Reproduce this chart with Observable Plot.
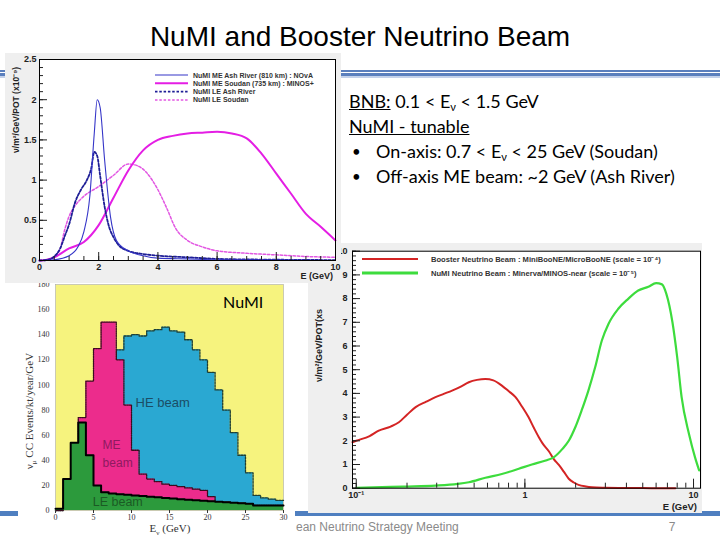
<!DOCTYPE html>
<html><head><meta charset="utf-8">
<script src="https://cdn.jsdelivr.net/npm/d3@7"></script>
<script src="https://cdn.jsdelivr.net/npm/@observablehq/plot@0.6"></script>
<style>
body{margin:0;background:#fff;}
#slide{position:relative;width:720px;height:540px;overflow:hidden;background:#fff;font-family:"Liberation Sans",Arial,sans-serif;}
.abs{position:absolute;}
.panel svg{display:block;}
.tb{position:absolute;left:349px;font-family:Lato,"Open Sans",sans-serif;font-size:18px;line-height:25px;color:#000;white-space:nowrap;}
.tb sub{font-size:11px;vertical-align:-3px;line-height:0;}
</style></head><body>
<div id="slide">
  <div class="abs" style="left:0;top:70px;width:720px;height:2px;background:#5a7fbd"></div>
  <div class="abs" style="left:0;top:73px;width:720px;height:3px;background:#5a7fbd"></div>
  <div class="abs" style="left:0;top:76px;width:720px;height:2px;background:#c3d1ea"></div>
  <div class="abs" style="left:0;top:511px;width:720px;height:5px;background:#4f7fc0"></div>
  <div class="abs" style="left:0;top:21px;width:720px;text-align:center;font-size:28px;line-height:32px;color:#000">NuMI and Booster Neutrino Beam</div>
  <div class="abs" style="left:296px;top:520px;font-size:12px;line-height:14px;color:#8a8a8a;white-space:nowrap">ean Neutrino Strategy Meeting</div>
  <div class="abs" style="left:666px;top:520px;width:12px;text-align:center;font-size:12px;line-height:14px;color:#8a8a8a">7</div>
  <div id="p3" class="abs panel" style="left:308px;top:243px;width:394px;height:270px;background:#efefef"></div>
  <div id="p2" class="abs panel" style="left:18px;top:270px;width:277px;height:270px;background:#fff"></div>
  <div id="p1" class="abs panel" style="left:5px;top:53px;width:336px;height:230px;background:#efefef"></div>
  <div class="tb" style="top:88.5px"><u>BNB:</u> 0.1 &lt; E<sub>ν</sub> &lt; 1.5 GeV</div>
  <div class="tb" style="top:113.5px"><u>NuMI - tunable</u></div>
  <div class="tb" style="top:138.5px;left:352px;font-size:15px">•</div>
  <div class="tb" style="top:138.5px;left:376px">On-axis: 0.7 &lt; E<sub>ν</sub> &lt; 25 GeV (Soudan)</div>
  <div class="tb" style="top:163.5px;left:352px;font-size:15px">•</div>
  <div class="tb" style="top:163.5px;left:376px">Off-axis ME beam: ~2 GeV (Ash River)</div>
</div>
<script>
// ---------- Top-left chart: NuMI fluxes (x10^-9) ----------
const meAshE = [0,0.5,1,1.3,1.5,1.7,1.85,1.95,2.05,2.2,2.4,2.6,3,3.5,4,5,6,8,10];
const meAshV = [0,0.01,0.06,0.17,0.36,0.8,1.58,2.0,1.9,1.25,0.54,0.25,0.12,0.06,0.03,0.02,0.01,0.005,0];
const meSouE = [0,0.25,0.5,1,1.5,2,2.5,3,3.5,4,4.5,5,5.5,6,6.5,7,7.5,8,8.5,9,9.5,10];
const meSouV = [0,0.01,0.04,0.15,0.23,0.44,0.78,1.12,1.37,1.5,1.55,1.58,1.59,1.6,1.58,1.52,1.33,1.08,0.83,0.58,0.42,0.25];
const leAshE = [0,0.3,0.5,0.7,0.85,1,1.2,1.4,1.6,1.75,1.85,1.95,2.05,2.2,2.35,2.5,2.7,3,3.5,4,5,6,8,10];
const leAshV = [0,0.01,0.05,0.15,0.3,0.45,0.72,0.88,1.0,1.15,1.35,1.3,1.05,0.67,0.42,0.29,0.18,0.12,0.08,0.06,0.04,0.02,0.01,0.005];
const leSouE = [0,0.3,0.5,0.7,0.85,1,1.2,1.5,2,2.5,3,3.3,3.6,4,4.3,4.6,5,5.5,6,7,8,9,10];
const leSouV = [0,0.01,0.05,0.15,0.38,0.55,0.68,0.8,0.92,1.06,1.2,1.18,1.1,0.88,0.65,0.4,0.25,0.17,0.12,0.09,0.07,0.05,0.04];
const topSeries = ["NuMI ME Ash River (810 km) : NOvA","NuMI ME Soudan (735 km) : MINOS+","NuMI LE Ash River","NuMI LE Soudan"];
const topXTicks = [0,2,4,6,8,10];
const topXMinor = [0,0.5,1,1.5,2,2.5,3,3.5,4,4.5,5,5.5,6,6.5,7,7.5,8,8.5,9,9.5,10];
const topYTicks = [0,0.5,1,1.5,2,2.5];
const topYMinor = [0,0.1,0.2,0.3,0.4,0.5,0.6,0.7,0.8,0.9,1,1.1,1.2,1.3,1.4,1.5,1.6,1.7,1.8,1.9,2,2.1,2.2,2.3,2.4,2.5];

// ---------- Bottom-left histogram: numu CC events/kt/year/GeV ----------
const binLo = [0,1,2,3,4,5,6,7,8,9,10,11,12,13,14,15,16,17,18,19,20,21,22,23,24,25,26,27,28,29];
const heEvents = [0,1,4,17,38,60,88,110,128,139,140,139,143,144,146,143,142,136,128,120,110,96,80,62,44,30,12,10,9,8];
const meEvents = [0,7,7,74,103,129,150,150,120,84,48,29,25,23,21,20,19,18,17,16,11,7,6.6,6.2,5.8,5.4,4,4,4,4];
const leEvents = [1.3,25,54,70,44,20,14.5,13.5,13,12.5,12,11.5,11,10.5,10,9.5,9,8.5,8.2,7.8,7.4,7,6.6,6.2,5.8,5.4,4,4,4,4];
const histXTicks = [0,5,10,15,20,25,30];
const histYTicks = [0,20,40,60,80,100,120,140,160,180];

// ---------- Right chart: BNB vs NuMI near flux ----------
const bnbE = [0.095,0.1,0.12,0.136,0.16,0.179,0.2,0.225,0.26,0.295,0.33,0.37,0.42,0.465,0.52,0.583,0.65,0.73,0.8,0.88,0.96,1.05,1.13,1.21,1.27,1.39,1.48,1.59,1.7,1.82,1.95,2.08,2.3,2.5,3,3.6,5,7.1,7.8];
const bnbV = [1.94,2.0,2.2,2.43,2.6,2.78,3.1,3.42,3.65,3.84,3.98,4.12,4.3,4.47,4.57,4.61,4.55,4.33,4.1,3.84,3.45,3.0,2.55,2.15,1.9,1.55,1.24,0.98,0.7,0.4,0.24,0.14,0.07,0.04,0.02,0.01,0.005,0,0];
const numiE = [0.1,0.19,0.295,0.4,0.465,0.583,0.73,0.92,1.1,1.33,1.48,1.67,1.82,1.99,2.17,2.38,2.61,2.86,3.13,3.58,4.1,4.7,5.4,6.0,6.5,6.9,7.5,8.0,8.5,9.4,10.2,10.8];
const numiV = [0.01,0.07,0.11,0.18,0.25,0.44,0.6,0.82,1.0,1.17,1.3,1.66,2.0,2.57,3.28,4.12,5.1,6.23,6.93,7.57,7.99,8.34,8.5,8.65,8.6,8.2,7.0,5.53,3.84,2.29,1.31,0.75];
const rightSeries = ["Booster Neutrino Beam : MiniBooNE/MicroBooNE (scale = 10\u207B\u2074)","NuMI Neutrino Beam : Minerva/MINOS-near (scale = 10\u207B\u2075)"];
const rightXTicks = [0.1,1,10];
const rightXLabels = ["10\u207B\u00B9","1","10"];
const rightXMinor = [0.1,0.2,0.3,0.4,0.5,0.6,0.7,0.8,0.9,1,2,3,4,5,6,7,8,9,10];
const rightYTicks = [0,1,2,3,4,5,6,7,8,9,10];
const rightYMinor = d3.range(0, 10.001, 0.2);

const pts = (xs, ys) => xs.map((x, i) => ({x, y: ys[i]}));
const steps = vals => [...binLo.map((x, i) => ({x, y: vals[i]})), {x: 30, y: vals[vals.length - 1]}];
const fmt = d3.format("~g");
const blank = () => "";

// ================= Chart 1 =================
{
  const c = {meAsh:"#3535c8", meSou:"#e41ee4", leAsh:"#1e1e96", leSou:"#e257e2"};
  const svg = Plot.plot({
    width: 336, height: 230, marginLeft: 34, marginRight: 6, marginTop: 6, marginBottom: 23,
    style: {background: "transparent", fontFamily: "Liberation Sans", fontSize: "9px", fontWeight: "bold", color: "#222"},
    x: {domain: [0, 10], axis: null},
    y: {domain: [0, 2.5], axis: null},
    marks: [
      Plot.frame({fill: "white"}),
      Plot.line(pts(leSouE, leSouV), {x: "x", y: "y", stroke: c.leSou, strokeWidth: 1.5, strokeDasharray: "2.5,1.8", curve: "monotone-x"}),
      Plot.line(pts(meSouE, meSouV), {x: "x", y: "y", stroke: c.meSou, strokeWidth: 2, curve: "monotone-x"}),
      Plot.line(pts(leAshE, leAshV), {x: "x", y: "y", stroke: c.leAsh, strokeWidth: 1.8, strokeDasharray: "2.5,1.8", curve: "monotone-x"}),
      Plot.line(pts(meAshE, meAshV), {x: "x", y: "y", stroke: c.meAsh, strokeWidth: 1.1, curve: "monotone-x"}),
      Plot.axisX({ticks: topXMinor, tickSize: -4, tickFormat: blank, label: null}),
      Plot.axisX({ticks: topXTicks, tickSize: -8, tickFormat: blank, label: null}),
      Plot.axisX({ticks: topXTicks, tickSize: 0, tickPadding: 3, tickFormat: fmt, label: null}),
      Plot.axisY({ticks: topYMinor, tickSize: -4, tickFormat: blank, label: null}),
      Plot.axisY({ticks: topYTicks, tickSize: -8, tickFormat: blank, label: null}),
      Plot.axisY({ticks: topYTicks, tickSize: 0, tickPadding: 3, tickFormat: fmt, label: null}),
      Plot.frame({stroke: "#000", strokeWidth: 1})
    ]
  });
  const g = d3.select(svg).append("g").attr("text-anchor", "start");
  const rows = [[c.meAsh, 1.1, null], [c.meSou, 2, null], [c.leAsh, 1.8, "2.5,1.8"], [c.leSou, 1.5, "2.5,1.8"]];
  rows.forEach(([col, w, dash], i) => {
    const y = 22 + i * 8.3;
    g.append("line").attr("x1", 150).attr("x2", 183).attr("y1", y).attr("y2", y)
      .attr("stroke", col).attr("stroke-width", w).attr("stroke-dasharray", dash);
    g.append("text").attr("x", 188).attr("y", y + 2.5).attr("text-anchor", "start").text(topSeries[i])
      .attr("font-size", 7).attr("font-weight", "bold").attr("fill", "#333");
  });
  g.append("text").attr("transform", "translate(14,14) rotate(-90)").attr("text-anchor", "end")
    .attr("font-size", 8.5).attr("font-weight", "bold").attr("fill", "#222")
    .text("\u03BD/m\u00B2/GeV/POT (x10\u207B\u2079)");
  g.append("text").attr("x", 328).attr("y", 226).attr("text-anchor", "end")
    .attr("font-size", 9).attr("font-weight", "bold").attr("fill", "#222").text("E (GeV)");
  document.getElementById("p1").appendChild(svg);
}

// ================= Chart 2 =================
{
  const col = {yel:"#f6f37e", he:"#2aa8d2", me:"#ec2c8c", le:"#2c9a3c"};
  const svg = Plot.plot({
    width: 277, height: 270, marginLeft: 37, marginRight: 12, marginTop: 14, marginBottom: 30,
    style: {background: "transparent", fontFamily: "Liberation Serif", fontSize: "8px", color: "#333"},
    x: {domain: [0, 30], axis: null},
    y: {domain: [0, 180], axis: null},
    marks: [
      Plot.frame({fill: col.yel, stroke: "#aaa", strokeWidth: 0.6}),
      Plot.areaY(steps(heEvents), {x: "x", y: "y", curve: "step-after", fill: col.he}),
      Plot.line(steps(heEvents), {x: "x", y: "y", curve: "step-after", stroke: "#1d3f35", strokeWidth: 1.3, strokeDasharray: "2,1.2"}),
      Plot.areaY(steps(meEvents), {x: "x", y: "y", curve: "step-after", fill: col.me}),
      Plot.line(steps(meEvents), {x: "x", y: "y", curve: "step-after", stroke: "#3a0c1e", strokeWidth: 1.3, strokeDasharray: "1.3,1"}),
      Plot.areaY(steps(leEvents), {x: "x", y: "y", curve: "step-after", fill: col.le}),
      Plot.line(steps(leEvents), {x: "x", y: "y", curve: "step-after", stroke: "#000", strokeWidth: 2}),
      Plot.axisX({ticks: histXTicks, tickSize: 3, tickPadding: 1, tickFormat: fmt, label: null}),
      Plot.axisY({ticks: histYTicks, tickSize: 0, tickPadding: 6, tickFormat: fmt, label: null}),
      Plot.text(["HE beam"], {x: 14.1, y: 86, fontSize: 13, fill: "#1b4d66", fontFamily: "Liberation Sans"}),
      Plot.text(["ME"], {x: 6.2, y: 52, textAnchor: "start", fontSize: 12, fill: "#8e1a60", fontFamily: "Liberation Sans"}),
      Plot.text(["beam"], {x: 6.2, y: 38, textAnchor: "start", fontSize: 12, fill: "#8e1a60", fontFamily: "Liberation Sans"}),
      Plot.text(["LE beam"], {x: 4.9, y: 6.4, textAnchor: "start", fontSize: 12.5, fill: "#1b5a24", fontFamily: "Liberation Sans"}),
      Plot.text(["NuMI"], {x: 24.7, y: 165, fontSize: 16, fill: "#000", fontFamily: "Lato"})
    ]
  });
  const g = d3.select(svg).append("g").attr("font-family", "Liberation Serif").attr("fill", "#333");
  const yl = g.append("text").attr("transform", "translate(15,141) rotate(-90)").attr("text-anchor", "middle").attr("font-size", 11);
  yl.append("tspan").text("\u03BD");
  yl.append("tspan").attr("font-size", 7).attr("dy", 3).text("\u03BC");
  yl.append("tspan").attr("dy", -3).text(" CC Events/kt/year/GeV");
  const xl = g.append("text").attr("x", 152).attr("y", 262).attr("text-anchor", "middle").attr("font-size", 11);
  xl.append("tspan").text("E");
  xl.append("tspan").attr("font-size", 7).attr("dy", 3).text("\u03BD");
  xl.append("tspan").attr("dy", -3).text(" (GeV)");
  document.getElementById("p2").appendChild(svg);
}

// ================= Chart 3 =================
{
  const red = "#d42424", green = "#3ddc3d";
  const xLab = d => rightXLabels[rightXTicks.findIndex(t => Math.abs(Math.log10(t) - Math.log10(d)) < 0.01)] ?? "";
  const svg = Plot.plot({
    width: 394, height: 270, marginLeft: 44, marginRight: 2, marginTop: 7.7, marginBottom: 25.3,
    style: {background: "transparent", fontFamily: "Liberation Sans", fontSize: "9px", fontWeight: "bold", color: "#222"},
    x: {type: "log", domain: [0.095, 11], axis: null},
    y: {domain: [0, 10], axis: null},
    marks: [
      Plot.frame({fill: "white"}),
      Plot.line(pts(bnbE, bnbV), {x: "x", y: "y", stroke: red, strokeWidth: 2, curve: "monotone-x"}),
      Plot.line(pts(numiE, numiV), {x: "x", y: "y", stroke: green, strokeWidth: 2.2, curve: "monotone-x"}),
      Plot.axisX({ticks: rightXMinor, tickSize: -5, tickFormat: blank, label: null}),
      Plot.axisX({ticks: rightXTicks, tickSize: -9, tickFormat: blank, label: null}),
      Plot.axisX({ticks: rightXTicks, tickSize: 0, tickPadding: 3, tickFormat: xLab, label: null}),
      Plot.axisY({ticks: rightYMinor, tickSize: -4, tickFormat: blank, label: null}),
      Plot.axisY({ticks: rightYTicks, tickSize: -8, tickFormat: blank, label: null}),
      Plot.axisY({ticks: rightYTicks, tickSize: 0, tickPadding: 5, tickFormat: fmt, label: null}),
      Plot.frame({stroke: "#000", strokeWidth: 1})
    ]
  });
  const g = d3.select(svg).append("g").attr("text-anchor", "start");
  [[red, 2], [green, 3]].forEach(([c, w], i) => {
    const y = 16 + i * 14;
    g.append("line").attr("x1", 54).attr("x2", 110).attr("y1", y).attr("y2", y).attr("stroke", c).attr("stroke-width", w);
    g.append("text").attr("x", 123).attr("y", y + 2.8).attr("text-anchor", "start").text(rightSeries[i])
      .attr("font-size", 7.6).attr("font-weight", "bold").attr("fill", "#333");
  });
  g.append("text").attr("transform", "translate(14,139) rotate(-90)").attr("text-anchor", "start")
    .attr("font-size", 9).attr("font-weight", "bold").attr("fill", "#222")
    .text("\u03BD/m\u00B2/GeV/POT(xs");
  g.append("text").attr("x", 389).attr("y", 267).attr("text-anchor", "end")
    .attr("font-size", 9.5).attr("font-weight", "bold").attr("fill", "#222").text("E (GeV)");
  document.getElementById("p3").appendChild(svg);
}
</script>
</body></html>
